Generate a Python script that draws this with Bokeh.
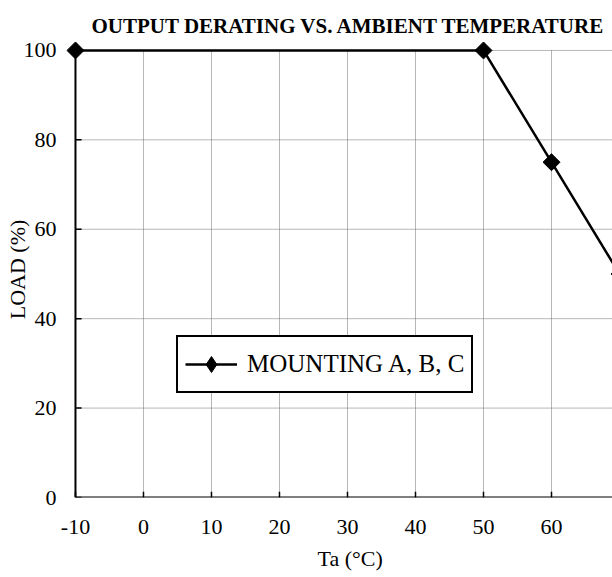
import math
from bokeh.plotting import figure
from bokeh.models import FixedTicker, Range1d, Legend, LegendItem, Title
from bokeh.embed import file_html
from bokeh.resources import INLINE

# Data
temps = [-10, 50, 60, 70]
loads = [100, 100, 75, 50]
series_name = "MOUNTING A, B, C"
x_ticks = [-10, 0, 10, 20, 30, 40, 50, 60, 70]
y_ticks = [0, 20, 40, 60, 80, 100]
title_text = "OUTPUT DERATING VS. AMBIENT TEMPERATURE"
x_title = "Ta (\u00b0C)"
y_title = "LOAD (%)"

FONT = "Liberation Serif"

p = figure(width=612, height=577, output_backend="svg", toolbar_location=None,
           x_range=Range1d(-11.32, 68.97), y_range=Range1d(0, 102.0),
           min_border_left=66, min_border_right=0, min_border_top=41, min_border_bottom=80)
p.outline_line_color = None
p.background_fill_color = "white"
p.border_fill_color = "white"
p.xgrid.visible = False
p.ygrid.visible = False

for ax, ticks in ((p.xaxis[0], x_ticks), (p.yaxis[0], y_ticks)):
    ax.ticker = FixedTicker(ticks=ticks)
    ax.major_label_overrides = {t: str(t) for t in ticks}
    ax.major_label_text_font = FONT
    ax.major_label_text_font_size = "22px"
    ax.major_label_text_color = "black"
    ax.axis_line_color = None
    ax.major_tick_line_color = None
    ax.minor_tick_line_color = None
    ax.major_tick_in = 0
    ax.major_tick_out = 0

p.xaxis.major_label_standoff = 22
p.yaxis.major_label_standoff = 10

# y axis title as axis label, pulled towards the tick labels
p.yaxis.axis_label = y_title
p.yaxis.axis_label_text_font = FONT
p.yaxis.axis_label_text_font_size = "22px"
p.yaxis.axis_label_text_font_style = "normal"
p.yaxis.axis_label_text_color = "black"
p.yaxis.axis_label_standoff = -9

# chart title
p.title.text = title_text
p.title.text_font = FONT
p.title.text_font_size = "21px"
p.title.text_font_style = "bold"
p.title.text_color = "black"
p.title.align = "left"
p.title.offset = 25
p.title.standoff = 7

# x axis title
p.add_layout(Title(text=x_title, align="left", offset=251, text_font=FONT,
                   text_font_size="22px", text_font_style="normal",
                   text_color="black", standoff=14), "below")

x0, x1 = x_ticks[0], x_ticks[-1]
y0, y1 = y_ticks[0], y_ticks[-1]

# dotted grid lines
p.segment(x0=x_ticks[1:], y0=[y0] * (len(x_ticks) - 1), x1=x_ticks[1:], y1=[y1] * (len(x_ticks) - 1),
          line_color="#6e6e6e", line_width=1, line_dash="1 1")
p.segment(x0=[x0] * (len(y_ticks) - 1), y0=y_ticks[1:], x1=[x1] * (len(y_ticks) - 1), y1=y_ticks[1:],
          line_color="#6e6e6e", line_width=1, line_dash="1 1")

# inward tick marks
p.segment(x0=x_ticks, y0=[y0] * len(x_ticks), x1=x_ticks, y1=[y0 + 1.3] * len(x_ticks),
          line_color="black", line_width=1.5)
p.segment(x0=[x0] * len(y_ticks), y0=y_ticks, x1=[x0 + 0.9] * len(y_ticks), y1=y_ticks,
          line_color="black", line_width=1.5)

# axis lines
p.segment(x0=[x0, x0], y0=[y0, y0], x1=[x0, x1], y1=[y1, y0], line_color="black", line_width=2)

line = p.line(temps, loads, line_color="black", line_width=2.5)
pts = p.scatter(temps, loads, marker="square", angle=math.pi / 4, size=12,
                fill_color="black", line_color="black")
# diamond used only for the legend entry
legend_marker = p.scatter(temps, loads, marker="diamond", size=17,
                          fill_color="black", line_color="black", visible=False)

legend = Legend(items=[LegendItem(label=series_name, renderers=[line, legend_marker])],
                location=(110, 104), click_policy="none",
                label_text_font=FONT, label_text_font_size="25px", label_text_color="black",
                glyph_width=52, glyph_height=40, label_height=30,
                label_standoff=10, padding=7, margin=0,
                border_line_color="black", border_line_width=2, border_line_alpha=1.0,
                background_fill_color="white", background_fill_alpha=1.0,
                inactive_fill_alpha=0.0)
p.add_layout(legend, "center")

open("out.html", "w").write(file_html(p, INLINE))
